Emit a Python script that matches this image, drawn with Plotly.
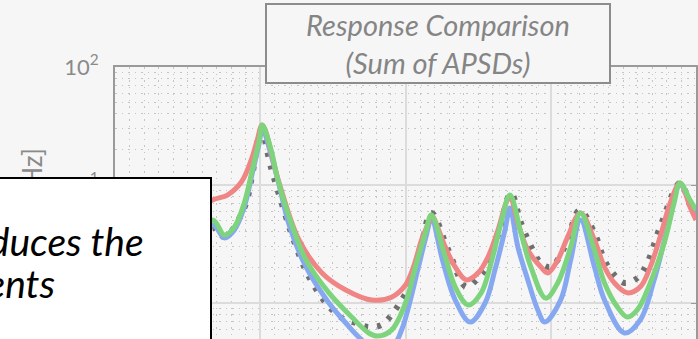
import plotly.graph_objects as go

# Frequency [Hz] and summed APSD values
red_f = [0, 37.7, 67.1, 77.4, 87.0, 93.8, 97.9, 101.4, 113, 126.7, 142.5, 158.9, 176.7, 190.4, 200, 205.5, 211, 215.8, 217.8,
         227.4, 234.2, 241.8, 250, 256.8, 263.7, 269.2, 271.9, 277.4, 284.2, 293.2, 297.9, 304.8, 311.6, 320.5,
         330.1, 337, 343.8, 352.7, 361.6, 368.5, 375.3, 382.2, 389, 395.9, 400]
red_v = [4.16, 4.58, 7.46, 8.22, 10.6, 16.3, 24.0, 32.2, 10.4, 3.42, 1.80, 1.29, 1.06, 1.12, 1.42, 2.02, 3.42, 4.77, 5.57,
         2.98, 2.02, 1.57, 1.80, 2.45, 4.16, 7.03, 8.07, 4.77, 2.81, 2.02, 1.80, 2.31, 3.62, 5.80,
         3.42, 2.02, 1.48, 1.22, 1.37, 2.02, 3.62, 7.03, 10.4, 6.52, 5.05]

green_f = [0, 37.7, 67.1, 75.3, 82.2, 89.0, 94.5, 99.3, 101.4, 107.5, 111.6, 119.9, 131.5, 147.3, 163, 174.7, 180.8, 190.4, 200,
           206.8, 213.7, 217.8, 227.4, 234.2, 243.2, 252.1, 258.9, 265.8, 271.9, 279.5, 286.3, 296.6, 304.8, 313.7, 320.5,
           330.1, 337, 345.9, 352.7, 359.6, 368.5, 378.1, 384.9, 389, 395.9, 400]
green_v = [3.42, 2.81, 5.05, 3.77, 4.41, 7.03, 13.4, 24.0, 32.2, 19.8, 11.7, 5.36, 2.31, 1.22, 0.76, 0.557, 0.525, 0.59, 1.0,
           2.02, 3.92, 5.57, 2.45, 1.37, 0.962, 1.22, 2.18, 4.77, 8.22, 3.92, 2.02, 1.10, 1.48, 2.98, 5.80,
           2.81, 1.48, 0.925, 0.76, 0.873, 1.48, 3.22, 7.03, 10.4, 7.46, 6.14]

blue_f = [0, 37.7, 67.1, 75.3, 82.2, 89.0, 94.5, 99.3, 101.4, 107.5, 113, 119.9, 131.5, 147.3, 158.9, 167.8, 180.1, 191.8, 197.3,
          202.1, 208.9, 214.4, 217.8, 226, 234.2, 244.5, 254.8, 261.6, 268.5, 271.9, 277.4, 284.2, 291.1, 295.9, 306.8,
          313.7, 320.5, 330.1, 337, 350.7, 361.6, 371.2, 380.1, 389, 395.9, 400]
blue_v = [3.1, 2.55, 4.58, 3.56, 4.16, 6.52, 12.6, 22.7, 30.4, 17.9, 10.0, 4.58, 2.02, 1.0, 0.677, 0.515, 0.40, 0.44, 0.59,
          0.925, 2.02, 3.77, 5.15, 2.18, 1.06, 0.69, 1.0, 1.91, 4.16, 6.38, 2.98, 1.57, 0.873, 0.69, 1.06,
          2.31, 5.05, 2.02, 1.06, 0.557, 0.718, 1.57, 4.16, 10.0, 7.03, 5.57]

meas_f = [0, 37.7, 68.5, 75.3, 89, 94.5, 100.7, 107.5, 124.7, 133.6, 145.2, 156.2, 165.8, 174.7, 183.6, 191.8, 197.3, 203.4,
          208.9, 217.8, 229.5, 241.8, 250, 256.8, 263.7, 272.6, 279.5, 287.7, 293.2, 300, 309.6, 319.9, 330.1, 337,
          343.8, 350.7, 359.6, 366.4, 375.3, 389, 395.9, 400]
meas_v = [3.42, 2.81, 4.32, 3.62, 6.38, 12.2, 29.2, 13.9, 2.98, 1.66, 1.0, 0.746, 0.677, 0.627, 0.652, 0.839, 1.06, 1.42,
          2.31, 5.80, 2.81, 1.37, 1.63, 2.10, 3.77, 8.55, 4.77, 2.81, 2.18, 2.02, 2.98, 6.14, 3.92, 2.31,
          1.73, 1.48, 1.63, 2.18, 4.41, 10.4, 6.78, 5.57]

y_tickvals = [1, 10, 100]
y_ticktext = ["10<sup>0</sup>", "10<sup>1</sup>", "10<sup>2</sup>"]

title_text = "Response Comparison<br>(Sum of APSDs)"
ytitle_text = "PSD [N<sup>2</sup>/Hz]"
box_line1 = "reproduces the"
box_line2 = "measurements"

BG = "#f6f6f6"
fig = go.Figure()
fig.add_trace(go.Scatter(x=meas_f, y=meas_v, mode="lines", name="Measured",
                         line=dict(color="#6f6f6f", width=6, dash="4px,9px", shape="spline", smoothing=1.0)))
fig.add_trace(go.Scatter(x=blue_f, y=blue_v, mode="lines", name="Model C",
                         line=dict(color="#86a8f0", width=5, shape="spline", smoothing=1.0)))
fig.add_trace(go.Scatter(x=red_f, y=red_v, mode="lines", name="Model A",
                         line=dict(color="#f08585", width=5, shape="spline", smoothing=1.0)))
fig.add_trace(go.Scatter(x=green_f, y=green_v, mode="lines", name="Model B",
                         line=dict(color="#7dd47d", width=5, shape="spline", smoothing=1.0)))

axis_font = dict(family="Lato, sans-serif", color="#8a8a8a")
fig.update_layout(
    width=698, height=339,
    margin=dict(l=115, r=0, t=67, b=0),
    paper_bgcolor=BG, plot_bgcolor=BG,
    showlegend=False,
    xaxis=dict(range=[0, 400], dtick=100, showticklabels=False, ticks="",
               showgrid=True, gridcolor="#dcdcdc", gridwidth=1.5,
               showline=True, linecolor="#9a9a9a", linewidth=2, mirror=True, zeroline=False,
               minor=dict(dtick=10, showgrid=True, gridcolor="#c4c4c4", griddash="1.5px,5px", gridwidth=1)),
    yaxis=dict(type="log", range=[-0.305, 2], tickvals=y_tickvals, ticktext=y_ticktext,
               tickfont=dict(size=22, **axis_font), ticks="inside", ticklen=5, tickcolor="#9a9a9a",
               ticklabelstandoff=10,
               showgrid=True, gridcolor="#dcdcdc", gridwidth=1.5,
               showline=True, linecolor="#9a9a9a", linewidth=2, mirror="ticks", zeroline=False,
               minor=dict(dtick="D1", showgrid=True, gridcolor="#c4c4c4", griddash="1.5px,5px", gridwidth=1)),
)

# y-axis title (mostly hidden by the text box)
fig.add_annotation(text=ytitle_text, xref="paper", yref="paper", x=-0.145, y=0.71,
                   xanchor="center", yanchor="top", textangle=-90, showarrow=False,
                   font=dict(size=26, **axis_font))
# overlay text box
fig.add_annotation(text=" ", xref="paper", yref="paper", x=0.1664, y=0.5956,
                   xanchor="right", yanchor="top", width=216, height=180, showarrow=False,
                   bgcolor="white", bordercolor="black", borderwidth=2, borderpad=0)
fig.add_annotation(text="<i>%s</i>" % box_line1, xref="paper", yref="paper", x=0.0532, y=0.362,
                   xanchor="right", yanchor="middle", showarrow=False,
                   font=dict(family="Lato, sans-serif", size=39, color="black"))
fig.add_annotation(text="<i>%s</i>" % box_line2, xref="paper", yref="paper", x=-0.1, y=0.205,
                   xanchor="right", yanchor="middle", showarrow=False,
                   font=dict(family="Lato, sans-serif", size=39, color="black"))
# title box
fig.add_annotation(text="<i>%s</i>" % title_text, xref="paper", yref="paper", x=0.5557, y=1.235,
                   xanchor="center", yanchor="top", width=342, height=77, showarrow=False,
                   bgcolor=BG, bordercolor="#8c8c8c", borderwidth=2, borderpad=0,
                   font=dict(family="Lato, sans-serif", size=29, color="#858585"))

fig.write_html("out.html")
